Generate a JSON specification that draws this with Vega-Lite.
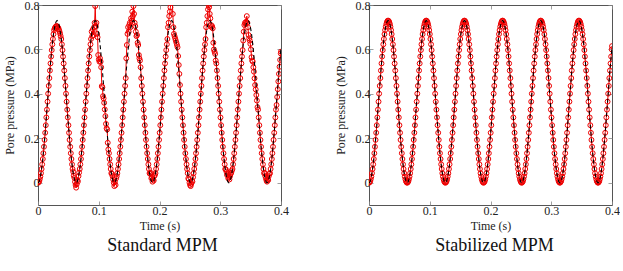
{
"$schema": "https://vega.github.io/schema/vega-lite/v6.json",
"padding": {"left": 2, "top": -2, "right": 0, "bottom": 0},
"background": "white",
"config": {
  "font": "Liberation Serif",
  "view": {"stroke": "#555555", "strokeWidth": 1},
  "axis": {"grid": false, "domain": false, "tickColor": "#888888", "tickSize": -4, "tickWidth": 0.8, "labelFontSize": 12, "titleFontSize": 12, "labelColor": "#222222", "titleColor": "#222222", "titleFontWeight": "normal", "labelFont": "Liberation Serif", "titleFont": "Liberation Serif", "labelPadding": 3},
  "axisX": {"titlePadding": 4, "labelPadding": 4},
  "axisY": {"titlePadding": 8, "labelPadding": 3},
  "title": {"font": "Liberation Serif", "fontSize": 18, "fontWeight": "normal", "color": "#111111"}
},
"datasets": {"mpm": [
{"t":0.0,"ex":0,"sd":0,"sb":0},
{"t":0.0010,"ex":0.002,"sd":0.002,"sb":0.002},
{"t":0.0020,"ex":0.007,"sd":0.007,"sb":0.007},
{"t":0.0029,"ex":0.016,"sd":0.016,"sb":0.016},
{"t":0.0039,"ex":0.028,"sd":0.028,"sb":0.028},
{"t":0.0049,"ex":0.043,"sd":0.043,"sb":0.043},
{"t":0.0059,"ex":0.062,"sd":0.062,"sb":0.062},
{"t":0.0069,"ex":0.083,"sd":0.083,"sb":0.083},
{"t":0.0079,"ex":0.107,"sd":0.107,"sb":0.107},
{"t":0.0088,"ex":0.133,"sd":0.133,"sb":0.133},
{"t":0.0098,"ex":0.162,"sd":0.162,"sb":0.162},
{"t":0.0108,"ex":0.193,"sd":0.193,"sb":0.193},
{"t":0.0118,"ex":0.225,"sd":0.225,"sb":0.225},
{"t":0.0128,"ex":0.259,"sd":0.259,"sb":0.259},
{"t":0.0137,"ex":0.294,"sd":0.294,"sb":0.294},
{"t":0.0147,"ex":0.329,"sd":0.329,"sb":0.329},
{"t":0.0157,"ex":0.365,"sd":0.365,"sb":0.365},
{"t":0.0167,"ex":0.401,"sd":0.401,"sb":0.401},
{"t":0.0177,"ex":0.436,"sd":0.436,"sb":0.436},
{"t":0.0187,"ex":0.471,"sd":0.471,"sb":0.471},
{"t":0.0196,"ex":0.505,"sd":0.505,"sb":0.505},
{"t":0.0206,"ex":0.537,"sd":0.537,"sb":0.537},
{"t":0.0216,"ex":0.568,"sd":0.568,"sb":0.568},
{"t":0.0226,"ex":0.597,"sd":0.597,"sb":0.597},
{"t":0.0236,"ex":0.623,"sd":0.623,"sb":0.623},
{"t":0.0245,"ex":0.647,"sd":0.647,"sb":0.647},
{"t":0.0255,"ex":0.669,"sd":0.669,"sb":0.669},
{"t":0.0265,"ex":0.687,"sd":0.687,"sb":0.687},
{"t":0.0275,"ex":0.702,"sd":0.695,"sb":0.702},
{"t":0.0285,"ex":0.714,"sd":0.700,"sb":0.714},
{"t":0.0295,"ex":0.723,"sd":0.703,"sb":0.723},
{"t":0.0304,"ex":0.728,"sd":0.706,"sb":0.728},
{"t":0.0314,"ex":0.730,"sd":0.704,"sb":0.730},
{"t":0.0324,"ex":0.728,"sd":0.700,"sb":0.728},
{"t":0.0334,"ex":0.723,"sd":0.697,"sb":0.723},
{"t":0.0344,"ex":0.714,"sd":0.690,"sb":0.714},
{"t":0.0353,"ex":0.702,"sd":0.682,"sb":0.702},
{"t":0.0363,"ex":0.687,"sd":0.672,"sb":0.687},
{"t":0.0373,"ex":0.669,"sd":0.660,"sb":0.669},
{"t":0.0383,"ex":0.647,"sd":0.647,"sb":0.647},
{"t":0.0393,"ex":0.623,"sd":0.623,"sb":0.623},
{"t":0.0403,"ex":0.597,"sd":0.597,"sb":0.597},
{"t":0.0412,"ex":0.568,"sd":0.568,"sb":0.568},
{"t":0.0422,"ex":0.537,"sd":0.537,"sb":0.537},
{"t":0.0432,"ex":0.505,"sd":0.505,"sb":0.505},
{"t":0.0442,"ex":0.471,"sd":0.471,"sb":0.471},
{"t":0.0452,"ex":0.436,"sd":0.436,"sb":0.436},
{"t":0.0461,"ex":0.401,"sd":0.401,"sb":0.401},
{"t":0.0471,"ex":0.365,"sd":0.365,"sb":0.365},
{"t":0.0481,"ex":0.329,"sd":0.329,"sb":0.329},
{"t":0.0491,"ex":0.294,"sd":0.294,"sb":0.294},
{"t":0.0501,"ex":0.259,"sd":0.259,"sb":0.259},
{"t":0.0511,"ex":0.225,"sd":0.225,"sb":0.225},
{"t":0.0520,"ex":0.193,"sd":0.193,"sb":0.193},
{"t":0.0530,"ex":0.162,"sd":0.162,"sb":0.162},
{"t":0.0540,"ex":0.133,"sd":0.133,"sb":0.133},
{"t":0.0550,"ex":0.107,"sd":0.107,"sb":0.107},
{"t":0.0560,"ex":0.083,"sd":0.083,"sb":0.083},
{"t":0.0569,"ex":0.062,"sd":0.062,"sb":0.062},
{"t":0.0579,"ex":0.043,"sd":0.050,"sb":0.043},
{"t":0.0589,"ex":0.028,"sd":0.032,"sb":0.028},
{"t":0.0599,"ex":0.016,"sd":0.022,"sb":0.016},
{"t":0.0609,"ex":0.007,"sd":0.004,"sb":0.007},
{"t":0.0619,"ex":0.002,"sd":-0.010,"sb":0.002},
{"t":0.0628,"ex":0,"sd":-0.022,"sb":0},
{"t":0.0638,"ex":0.002,"sd":-0.006,"sb":0.002},
{"t":0.0648,"ex":0.007,"sd":0.012,"sb":0.007},
{"t":0.0657,"ex":0.016,"sd":0.006,"sb":0.016},
{"t":0.0667,"ex":0.028,"sd":0.030,"sb":0.028},
{"t":0.0677,"ex":0.043,"sd":0.046,"sb":0.043},
{"t":0.0687,"ex":0.062,"sd":0.062,"sb":0.062},
{"t":0.0697,"ex":0.083,"sd":0.083,"sb":0.083},
{"t":0.0707,"ex":0.107,"sd":0.107,"sb":0.107},
{"t":0.0716,"ex":0.133,"sd":0.133,"sb":0.133},
{"t":0.0726,"ex":0.162,"sd":0.162,"sb":0.162},
{"t":0.0736,"ex":0.193,"sd":0.193,"sb":0.193},
{"t":0.0746,"ex":0.225,"sd":0.225,"sb":0.225},
{"t":0.0756,"ex":0.259,"sd":0.259,"sb":0.259},
{"t":0.0765,"ex":0.294,"sd":0.294,"sb":0.294},
{"t":0.0775,"ex":0.329,"sd":0.329,"sb":0.329},
{"t":0.0785,"ex":0.365,"sd":0.365,"sb":0.365},
{"t":0.0795,"ex":0.401,"sd":0.401,"sb":0.401},
{"t":0.0805,"ex":0.436,"sd":0.436,"sb":0.436},
{"t":0.0815,"ex":0.471,"sd":0.471,"sb":0.471},
{"t":0.0824,"ex":0.505,"sd":0.505,"sb":0.505},
{"t":0.0834,"ex":0.537,"sd":0.537,"sb":0.537},
{"t":0.0844,"ex":0.568,"sd":0.568,"sb":0.568},
{"t":0.0854,"ex":0.597,"sd":0.597,"sb":0.597},
{"t":0.0864,"ex":0.623,"sd":0.623,"sb":0.623},
{"t":0.0873,"ex":0.647,"sd":0.647,"sb":0.647},
{"t":0.0883,"ex":0.669,"sd":0.680,"sb":0.669},
{"t":0.0893,"ex":0.687,"sd":0.660,"sb":0.687},
{"t":0.0903,"ex":0.702,"sd":0.690,"sb":0.702},
{"t":0.0913,"ex":0.714,"sd":0.665,"sb":0.714},
{"t":0.0923,"ex":0.723,"sd":0.700,"sb":0.723},
{"t":0.0932,"ex":0.728,"sd":0.720,"sb":0.728},
{"t":0.0942,"ex":0.730,"sd":0.795,"sb":0.730},
{"t":0.0952,"ex":0.728,"sd":0.705,"sb":0.728},
{"t":0.0962,"ex":0.723,"sd":0.720,"sb":0.723},
{"t":0.0972,"ex":0.714,"sd":0.670,"sb":0.714},
{"t":0.0981,"ex":0.702,"sd":0.655,"sb":0.702},
{"t":0.0991,"ex":0.687,"sd":0.575,"sb":0.687},
{"t":0.1001,"ex":0.669,"sd":0.555,"sb":0.669},
{"t":0.1011,"ex":0.647,"sd":0.545,"sb":0.647},
{"t":0.1021,"ex":0.623,"sd":0.560,"sb":0.623},
{"t":0.1031,"ex":0.597,"sd":0.545,"sb":0.597},
{"t":0.1040,"ex":0.568,"sd":0.520,"sb":0.568},
{"t":0.1050,"ex":0.537,"sd":0.435,"sb":0.537},
{"t":0.1060,"ex":0.505,"sd":0.430,"sb":0.505},
{"t":0.1070,"ex":0.471,"sd":0.390,"sb":0.471},
{"t":0.1080,"ex":0.436,"sd":0.380,"sb":0.436},
{"t":0.1089,"ex":0.401,"sd":0.360,"sb":0.401},
{"t":0.1099,"ex":0.365,"sd":0.330,"sb":0.365},
{"t":0.1109,"ex":0.329,"sd":0.300,"sb":0.329},
{"t":0.1119,"ex":0.294,"sd":0.265,"sb":0.294},
{"t":0.1129,"ex":0.259,"sd":0.245,"sb":0.259},
{"t":0.1139,"ex":0.225,"sd":0.240,"sb":0.225},
{"t":0.1148,"ex":0.193,"sd":0.180,"sb":0.193},
{"t":0.1158,"ex":0.162,"sd":0.150,"sb":0.162},
{"t":0.1168,"ex":0.133,"sd":0.133,"sb":0.133},
{"t":0.1178,"ex":0.107,"sd":0.107,"sb":0.107},
{"t":0.1188,"ex":0.083,"sd":0.083,"sb":0.083},
{"t":0.1197,"ex":0.062,"sd":0.062,"sb":0.062},
{"t":0.1207,"ex":0.043,"sd":0.043,"sb":0.043},
{"t":0.1217,"ex":0.028,"sd":0.040,"sb":0.028},
{"t":0.1227,"ex":0.016,"sd":0.030,"sb":0.016},
{"t":0.1237,"ex":0.007,"sd":0.015,"sb":0.007},
{"t":0.1247,"ex":0.002,"sd":0.000,"sb":0.002},
{"t":0.1257,"ex":0,"sd":-0.015,"sb":0},
{"t":0.1267,"ex":0.002,"sd":0.005,"sb":0.002},
{"t":0.1277,"ex":0.007,"sd":-0.010,"sb":0.007},
{"t":0.1286,"ex":0.016,"sd":0.020,"sb":0.016},
{"t":0.1296,"ex":0.028,"sd":0.030,"sb":0.028},
{"t":0.1306,"ex":0.043,"sd":0.043,"sb":0.043},
{"t":0.1316,"ex":0.062,"sd":0.062,"sb":0.062},
{"t":0.1326,"ex":0.083,"sd":0.083,"sb":0.083},
{"t":0.1336,"ex":0.107,"sd":0.107,"sb":0.107},
{"t":0.1345,"ex":0.133,"sd":0.133,"sb":0.133},
{"t":0.1355,"ex":0.162,"sd":0.162,"sb":0.162},
{"t":0.1365,"ex":0.193,"sd":0.193,"sb":0.193},
{"t":0.1375,"ex":0.225,"sd":0.225,"sb":0.225},
{"t":0.1385,"ex":0.259,"sd":0.259,"sb":0.259},
{"t":0.1394,"ex":0.294,"sd":0.294,"sb":0.294},
{"t":0.1404,"ex":0.329,"sd":0.329,"sb":0.329},
{"t":0.1414,"ex":0.365,"sd":0.365,"sb":0.365},
{"t":0.1424,"ex":0.401,"sd":0.401,"sb":0.401},
{"t":0.1434,"ex":0.436,"sd":0.436,"sb":0.436},
{"t":0.1444,"ex":0.471,"sd":0.471,"sb":0.471},
{"t":0.1453,"ex":0.505,"sd":0.560,"sb":0.505},
{"t":0.1463,"ex":0.537,"sd":0.620,"sb":0.537},
{"t":0.1473,"ex":0.568,"sd":0.670,"sb":0.568},
{"t":0.1483,"ex":0.597,"sd":0.700,"sb":0.597},
{"t":0.1493,"ex":0.623,"sd":0.680,"sb":0.623},
{"t":0.1502,"ex":0.647,"sd":0.710,"sb":0.647},
{"t":0.1512,"ex":0.669,"sd":0.720,"sb":0.669},
{"t":0.1522,"ex":0.687,"sd":0.700,"sb":0.687},
{"t":0.1532,"ex":0.702,"sd":0.740,"sb":0.702},
{"t":0.1542,"ex":0.714,"sd":0.730,"sb":0.714},
{"t":0.1552,"ex":0.723,"sd":0.770,"sb":0.723},
{"t":0.1561,"ex":0.728,"sd":0.750,"sb":0.728},
{"t":0.1571,"ex":0.730,"sd":0.795,"sb":0.730},
{"t":0.1581,"ex":0.728,"sd":0.760,"sb":0.728},
{"t":0.1591,"ex":0.723,"sd":0.720,"sb":0.723},
{"t":0.1601,"ex":0.714,"sd":0.705,"sb":0.714},
{"t":0.1610,"ex":0.702,"sd":0.680,"sb":0.702},
{"t":0.1620,"ex":0.687,"sd":0.660,"sb":0.687},
{"t":0.1630,"ex":0.669,"sd":0.665,"sb":0.669},
{"t":0.1640,"ex":0.647,"sd":0.630,"sb":0.647},
{"t":0.1650,"ex":0.623,"sd":0.620,"sb":0.623},
{"t":0.1660,"ex":0.597,"sd":0.575,"sb":0.597},
{"t":0.1669,"ex":0.568,"sd":0.560,"sb":0.568},
{"t":0.1679,"ex":0.537,"sd":0.550,"sb":0.537},
{"t":0.1689,"ex":0.505,"sd":0.520,"sb":0.505},
{"t":0.1699,"ex":0.471,"sd":0.471,"sb":0.471},
{"t":0.1709,"ex":0.436,"sd":0.436,"sb":0.436},
{"t":0.1718,"ex":0.401,"sd":0.401,"sb":0.401},
{"t":0.1728,"ex":0.365,"sd":0.365,"sb":0.365},
{"t":0.1738,"ex":0.329,"sd":0.329,"sb":0.329},
{"t":0.1748,"ex":0.294,"sd":0.294,"sb":0.294},
{"t":0.1758,"ex":0.259,"sd":0.259,"sb":0.259},
{"t":0.1768,"ex":0.225,"sd":0.225,"sb":0.225},
{"t":0.1777,"ex":0.193,"sd":0.193,"sb":0.193},
{"t":0.1787,"ex":0.162,"sd":0.162,"sb":0.162},
{"t":0.1797,"ex":0.133,"sd":0.133,"sb":0.133},
{"t":0.1807,"ex":0.107,"sd":0.107,"sb":0.107},
{"t":0.1817,"ex":0.083,"sd":0.083,"sb":0.083},
{"t":0.1826,"ex":0.062,"sd":0.062,"sb":0.062},
{"t":0.1836,"ex":0.043,"sd":0.043,"sb":0.043},
{"t":0.1846,"ex":0.028,"sd":0.040,"sb":0.028},
{"t":0.1856,"ex":0.016,"sd":0.045,"sb":0.016},
{"t":0.1866,"ex":0.007,"sd":0.020,"sb":0.007},
{"t":0.1876,"ex":0.002,"sd":0.025,"sb":0.002},
{"t":0.1885,"ex":0,"sd":0.005,"sb":0},
{"t":0.1895,"ex":0.002,"sd":0.015,"sb":0.002},
{"t":0.1905,"ex":0.007,"sd":0.010,"sb":0.007},
{"t":0.1914,"ex":0.016,"sd":0.030,"sb":0.016},
{"t":0.1924,"ex":0.028,"sd":0.035,"sb":0.028},
{"t":0.1934,"ex":0.043,"sd":0.043,"sb":0.043},
{"t":0.1944,"ex":0.062,"sd":0.062,"sb":0.062},
{"t":0.1954,"ex":0.083,"sd":0.083,"sb":0.083},
{"t":0.1964,"ex":0.107,"sd":0.107,"sb":0.107},
{"t":0.1973,"ex":0.133,"sd":0.133,"sb":0.133},
{"t":0.1983,"ex":0.162,"sd":0.162,"sb":0.162},
{"t":0.1993,"ex":0.193,"sd":0.193,"sb":0.193},
{"t":0.2003,"ex":0.225,"sd":0.225,"sb":0.225},
{"t":0.2013,"ex":0.259,"sd":0.259,"sb":0.259},
{"t":0.2022,"ex":0.294,"sd":0.294,"sb":0.294},
{"t":0.2032,"ex":0.329,"sd":0.329,"sb":0.329},
{"t":0.2042,"ex":0.365,"sd":0.365,"sb":0.365},
{"t":0.2052,"ex":0.401,"sd":0.401,"sb":0.401},
{"t":0.2062,"ex":0.436,"sd":0.436,"sb":0.436},
{"t":0.2072,"ex":0.471,"sd":0.471,"sb":0.471},
{"t":0.2081,"ex":0.505,"sd":0.505,"sb":0.505},
{"t":0.2091,"ex":0.537,"sd":0.537,"sb":0.537},
{"t":0.2101,"ex":0.568,"sd":0.568,"sb":0.568},
{"t":0.2111,"ex":0.597,"sd":0.597,"sb":0.597},
{"t":0.2121,"ex":0.623,"sd":0.623,"sb":0.623},
{"t":0.2130,"ex":0.647,"sd":0.647,"sb":0.647},
{"t":0.2140,"ex":0.669,"sd":0.700,"sb":0.669},
{"t":0.2150,"ex":0.687,"sd":0.720,"sb":0.687},
{"t":0.2160,"ex":0.702,"sd":0.750,"sb":0.702},
{"t":0.2170,"ex":0.714,"sd":0.770,"sb":0.714},
{"t":0.2180,"ex":0.723,"sd":0.790,"sb":0.723},
{"t":0.2189,"ex":0.728,"sd":0.820,"sb":0.728},
{"t":0.2199,"ex":0.730,"sd":0.860,"sb":0.730},
{"t":0.2209,"ex":0.728,"sd":0.840,"sb":0.728},
{"t":0.2219,"ex":0.723,"sd":0.760,"sb":0.723},
{"t":0.2229,"ex":0.714,"sd":0.700,"sb":0.714},
{"t":0.2238,"ex":0.702,"sd":0.670,"sb":0.702},
{"t":0.2248,"ex":0.687,"sd":0.660,"sb":0.687},
{"t":0.2258,"ex":0.669,"sd":0.650,"sb":0.669},
{"t":0.2268,"ex":0.647,"sd":0.640,"sb":0.647},
{"t":0.2278,"ex":0.623,"sd":0.630,"sb":0.623},
{"t":0.2288,"ex":0.597,"sd":0.620,"sb":0.597},
{"t":0.2297,"ex":0.568,"sd":0.610,"sb":0.568},
{"t":0.2307,"ex":0.537,"sd":0.570,"sb":0.537},
{"t":0.2317,"ex":0.505,"sd":0.530,"sb":0.505},
{"t":0.2327,"ex":0.471,"sd":0.490,"sb":0.471},
{"t":0.2337,"ex":0.436,"sd":0.440,"sb":0.436},
{"t":0.2346,"ex":0.401,"sd":0.401,"sb":0.401},
{"t":0.2356,"ex":0.365,"sd":0.365,"sb":0.365},
{"t":0.2366,"ex":0.329,"sd":0.329,"sb":0.329},
{"t":0.2376,"ex":0.294,"sd":0.294,"sb":0.294},
{"t":0.2386,"ex":0.259,"sd":0.259,"sb":0.259},
{"t":0.2396,"ex":0.225,"sd":0.225,"sb":0.225},
{"t":0.2405,"ex":0.193,"sd":0.193,"sb":0.193},
{"t":0.2415,"ex":0.162,"sd":0.162,"sb":0.162},
{"t":0.2425,"ex":0.133,"sd":0.133,"sb":0.133},
{"t":0.2435,"ex":0.107,"sd":0.107,"sb":0.107},
{"t":0.2445,"ex":0.083,"sd":0.083,"sb":0.083},
{"t":0.2454,"ex":0.062,"sd":0.062,"sb":0.062},
{"t":0.2464,"ex":0.043,"sd":0.043,"sb":0.043},
{"t":0.2474,"ex":0.028,"sd":0.020,"sb":0.028},
{"t":0.2484,"ex":0.016,"sd":0.015,"sb":0.016},
{"t":0.2494,"ex":0.007,"sd":0.000,"sb":0.007},
{"t":0.2504,"ex":0.002,"sd":-0.010,"sb":0.002},
{"t":0.2513,"ex":0,"sd":-0.015,"sb":0},
{"t":0.2523,"ex":0.002,"sd":-0.005,"sb":0.002},
{"t":0.2533,"ex":0.007,"sd":0.010,"sb":0.007},
{"t":0.2542,"ex":0.016,"sd":0.005,"sb":0.016},
{"t":0.2552,"ex":0.028,"sd":0.025,"sb":0.028},
{"t":0.2562,"ex":0.043,"sd":0.043,"sb":0.043},
{"t":0.2572,"ex":0.062,"sd":0.062,"sb":0.062},
{"t":0.2582,"ex":0.083,"sd":0.083,"sb":0.083},
{"t":0.2592,"ex":0.107,"sd":0.107,"sb":0.107},
{"t":0.2601,"ex":0.133,"sd":0.133,"sb":0.133},
{"t":0.2611,"ex":0.162,"sd":0.162,"sb":0.162},
{"t":0.2621,"ex":0.193,"sd":0.193,"sb":0.193},
{"t":0.2631,"ex":0.225,"sd":0.225,"sb":0.225},
{"t":0.2641,"ex":0.259,"sd":0.259,"sb":0.259},
{"t":0.2650,"ex":0.294,"sd":0.294,"sb":0.294},
{"t":0.2660,"ex":0.329,"sd":0.329,"sb":0.329},
{"t":0.2670,"ex":0.365,"sd":0.365,"sb":0.365},
{"t":0.2680,"ex":0.401,"sd":0.401,"sb":0.401},
{"t":0.2690,"ex":0.436,"sd":0.436,"sb":0.436},
{"t":0.2700,"ex":0.471,"sd":0.471,"sb":0.471},
{"t":0.2709,"ex":0.505,"sd":0.505,"sb":0.505},
{"t":0.2719,"ex":0.537,"sd":0.537,"sb":0.537},
{"t":0.2729,"ex":0.568,"sd":0.568,"sb":0.568},
{"t":0.2739,"ex":0.597,"sd":0.597,"sb":0.597},
{"t":0.2749,"ex":0.623,"sd":0.623,"sb":0.623},
{"t":0.2758,"ex":0.647,"sd":0.647,"sb":0.647},
{"t":0.2768,"ex":0.669,"sd":0.700,"sb":0.669},
{"t":0.2778,"ex":0.687,"sd":0.720,"sb":0.687},
{"t":0.2788,"ex":0.702,"sd":0.750,"sb":0.702},
{"t":0.2798,"ex":0.714,"sd":0.780,"sb":0.714},
{"t":0.2808,"ex":0.723,"sd":0.800,"sb":0.723},
{"t":0.2817,"ex":0.728,"sd":0.790,"sb":0.728},
{"t":0.2827,"ex":0.730,"sd":0.760,"sb":0.730},
{"t":0.2837,"ex":0.728,"sd":0.740,"sb":0.728},
{"t":0.2847,"ex":0.723,"sd":0.710,"sb":0.723},
{"t":0.2857,"ex":0.714,"sd":0.700,"sb":0.714},
{"t":0.2866,"ex":0.702,"sd":0.705,"sb":0.702},
{"t":0.2876,"ex":0.687,"sd":0.695,"sb":0.687},
{"t":0.2886,"ex":0.669,"sd":0.630,"sb":0.669},
{"t":0.2896,"ex":0.647,"sd":0.600,"sb":0.647},
{"t":0.2906,"ex":0.623,"sd":0.590,"sb":0.623},
{"t":0.2916,"ex":0.597,"sd":0.580,"sb":0.597},
{"t":0.2925,"ex":0.568,"sd":0.550,"sb":0.568},
{"t":0.2935,"ex":0.537,"sd":0.537,"sb":0.537},
{"t":0.2945,"ex":0.505,"sd":0.505,"sb":0.505},
{"t":0.2955,"ex":0.471,"sd":0.471,"sb":0.471},
{"t":0.2965,"ex":0.436,"sd":0.436,"sb":0.436},
{"t":0.2974,"ex":0.401,"sd":0.401,"sb":0.401},
{"t":0.2984,"ex":0.365,"sd":0.365,"sb":0.365},
{"t":0.2994,"ex":0.329,"sd":0.329,"sb":0.329},
{"t":0.3004,"ex":0.294,"sd":0.294,"sb":0.294},
{"t":0.3014,"ex":0.259,"sd":0.259,"sb":0.259},
{"t":0.3024,"ex":0.225,"sd":0.225,"sb":0.225},
{"t":0.3033,"ex":0.193,"sd":0.193,"sb":0.193},
{"t":0.3043,"ex":0.162,"sd":0.162,"sb":0.162},
{"t":0.3053,"ex":0.133,"sd":0.133,"sb":0.133},
{"t":0.3063,"ex":0.107,"sd":0.107,"sb":0.107},
{"t":0.3073,"ex":0.083,"sd":0.083,"sb":0.083},
{"t":0.3082,"ex":0.062,"sd":0.062,"sb":0.062},
{"t":0.3092,"ex":0.043,"sd":0.060,"sb":0.043},
{"t":0.3102,"ex":0.028,"sd":0.050,"sb":0.028},
{"t":0.3112,"ex":0.016,"sd":0.035,"sb":0.016},
{"t":0.3122,"ex":0.007,"sd":0.040,"sb":0.007},
{"t":0.3132,"ex":0.002,"sd":0.020,"sb":0.002},
{"t":0.3142,"ex":0,"sd":0.025,"sb":0},
{"t":0.3152,"ex":0.002,"sd":0.015,"sb":0.002},
{"t":0.3162,"ex":0.007,"sd":0.030,"sb":0.007},
{"t":0.3171,"ex":0.016,"sd":0.040,"sb":0.016},
{"t":0.3181,"ex":0.028,"sd":0.045,"sb":0.028},
{"t":0.3191,"ex":0.043,"sd":0.055,"sb":0.043},
{"t":0.3201,"ex":0.062,"sd":0.062,"sb":0.062},
{"t":0.3211,"ex":0.083,"sd":0.083,"sb":0.083},
{"t":0.3221,"ex":0.107,"sd":0.107,"sb":0.107},
{"t":0.3230,"ex":0.133,"sd":0.133,"sb":0.133},
{"t":0.3240,"ex":0.162,"sd":0.162,"sb":0.162},
{"t":0.3250,"ex":0.193,"sd":0.193,"sb":0.193},
{"t":0.3260,"ex":0.225,"sd":0.225,"sb":0.225},
{"t":0.3270,"ex":0.259,"sd":0.259,"sb":0.259},
{"t":0.3279,"ex":0.294,"sd":0.294,"sb":0.294},
{"t":0.3289,"ex":0.329,"sd":0.329,"sb":0.329},
{"t":0.3299,"ex":0.365,"sd":0.365,"sb":0.365},
{"t":0.3309,"ex":0.401,"sd":0.401,"sb":0.401},
{"t":0.3319,"ex":0.436,"sd":0.436,"sb":0.436},
{"t":0.3329,"ex":0.471,"sd":0.471,"sb":0.471},
{"t":0.3338,"ex":0.505,"sd":0.505,"sb":0.505},
{"t":0.3348,"ex":0.537,"sd":0.537,"sb":0.537},
{"t":0.3358,"ex":0.568,"sd":0.568,"sb":0.568},
{"t":0.3368,"ex":0.597,"sd":0.597,"sb":0.597},
{"t":0.3378,"ex":0.623,"sd":0.640,"sb":0.623},
{"t":0.3387,"ex":0.647,"sd":0.680,"sb":0.647},
{"t":0.3397,"ex":0.669,"sd":0.710,"sb":0.669},
{"t":0.3407,"ex":0.687,"sd":0.720,"sb":0.687},
{"t":0.3417,"ex":0.702,"sd":0.715,"sb":0.702},
{"t":0.3427,"ex":0.714,"sd":0.725,"sb":0.714},
{"t":0.3437,"ex":0.723,"sd":0.750,"sb":0.723},
{"t":0.3446,"ex":0.728,"sd":0.720,"sb":0.728},
{"t":0.3456,"ex":0.730,"sd":0.700,"sb":0.730},
{"t":0.3466,"ex":0.728,"sd":0.665,"sb":0.728},
{"t":0.3476,"ex":0.723,"sd":0.650,"sb":0.723},
{"t":0.3486,"ex":0.714,"sd":0.640,"sb":0.714},
{"t":0.3495,"ex":0.702,"sd":0.625,"sb":0.702},
{"t":0.3505,"ex":0.687,"sd":0.600,"sb":0.687},
{"t":0.3515,"ex":0.669,"sd":0.565,"sb":0.669},
{"t":0.3525,"ex":0.647,"sd":0.550,"sb":0.647},
{"t":0.3535,"ex":0.623,"sd":0.545,"sb":0.623},
{"t":0.3545,"ex":0.597,"sd":0.520,"sb":0.597},
{"t":0.3554,"ex":0.568,"sd":0.500,"sb":0.568},
{"t":0.3564,"ex":0.537,"sd":0.470,"sb":0.537},
{"t":0.3574,"ex":0.505,"sd":0.440,"sb":0.505},
{"t":0.3584,"ex":0.471,"sd":0.420,"sb":0.471},
{"t":0.3594,"ex":0.436,"sd":0.395,"sb":0.436},
{"t":0.3603,"ex":0.401,"sd":0.370,"sb":0.401},
{"t":0.3613,"ex":0.365,"sd":0.340,"sb":0.365},
{"t":0.3623,"ex":0.329,"sd":0.329,"sb":0.329},
{"t":0.3633,"ex":0.294,"sd":0.294,"sb":0.294},
{"t":0.3643,"ex":0.259,"sd":0.259,"sb":0.259},
{"t":0.3653,"ex":0.225,"sd":0.225,"sb":0.225},
{"t":0.3662,"ex":0.193,"sd":0.193,"sb":0.193},
{"t":0.3672,"ex":0.162,"sd":0.162,"sb":0.162},
{"t":0.3682,"ex":0.133,"sd":0.133,"sb":0.133},
{"t":0.3692,"ex":0.107,"sd":0.107,"sb":0.107},
{"t":0.3702,"ex":0.083,"sd":0.083,"sb":0.083},
{"t":0.3711,"ex":0.062,"sd":0.062,"sb":0.062},
{"t":0.3721,"ex":0.043,"sd":0.043,"sb":0.043},
{"t":0.3731,"ex":0.028,"sd":0.045,"sb":0.028},
{"t":0.3741,"ex":0.016,"sd":0.030,"sb":0.016},
{"t":0.3751,"ex":0.007,"sd":0.020,"sb":0.007},
{"t":0.3761,"ex":0.002,"sd":0.010,"sb":0.002},
{"t":0.3770,"ex":0,"sd":0.005,"sb":0},
{"t":0.3780,"ex":0.002,"sd":0.015,"sb":0.002},
{"t":0.3790,"ex":0.007,"sd":0.012,"sb":0.007},
{"t":0.3799,"ex":0.016,"sd":0.030,"sb":0.016},
{"t":0.3809,"ex":0.028,"sd":0.040,"sb":0.028},
{"t":0.3819,"ex":0.043,"sd":0.043,"sb":0.043},
{"t":0.3829,"ex":0.062,"sd":0.062,"sb":0.062},
{"t":0.3839,"ex":0.083,"sd":0.083,"sb":0.083},
{"t":0.3849,"ex":0.107,"sd":0.107,"sb":0.107},
{"t":0.3858,"ex":0.133,"sd":0.133,"sb":0.133},
{"t":0.3868,"ex":0.162,"sd":0.162,"sb":0.162},
{"t":0.3878,"ex":0.193,"sd":0.193,"sb":0.193},
{"t":0.3888,"ex":0.225,"sd":0.225,"sb":0.225},
{"t":0.3898,"ex":0.259,"sd":0.259,"sb":0.259},
{"t":0.3907,"ex":0.294,"sd":0.294,"sb":0.294},
{"t":0.3917,"ex":0.329,"sd":0.329,"sb":0.329},
{"t":0.3927,"ex":0.365,"sd":0.350,"sb":0.365},
{"t":0.3937,"ex":0.401,"sd":0.386,"sb":0.401},
{"t":0.3947,"ex":0.436,"sd":0.421,"sb":0.436},
{"t":0.3956,"ex":0.471,"sd":0.456,"sb":0.471},
{"t":0.3966,"ex":0.505,"sd":0.490,"sb":0.505},
{"t":0.3976,"ex":0.537,"sd":0.522,"sb":0.537},
{"t":0.3986,"ex":0.568,"sd":0.553,"sb":0.568},
{"t":0.3996,"ex":0.597,"sd":0.582,"sb":0.600},
{"t":0.4,"ex":0.608,"sd":0.590,"sb":0.615}
]},
"spacing": 44,
"hconcat": [
 {
  "width": 243, "height": 200,
  "data": {"name": "mpm"},
  "title": {"text": "Standard MPM", "orient": "bottom", "anchor": "middle", "frame": "group", "offset": 6, "dx": 3},
  "layer": [
   {"mark": {"type": "line", "color": "#ee0000", "strokeWidth": 1, "clip": true},
    "encoding": {
     "x": {"field": "t", "type": "quantitative", "scale": {"domain": [0, 0.4], "nice": false}, "axis": {"values": [0, 0.1, 0.2, 0.3, 0.4], "format": "~g", "title": "Time (s)", "labelFlush": false}},
     "y": {"field": "sd", "type": "quantitative", "scale": {"domain": [-0.1, 0.8], "nice": false, "zero": false}, "axis": {"values": [0, 0.2, 0.4, 0.6, 0.8], "format": "~g", "title": "Pore pressure (MPa)", "labelFlush": false}}}},
   {"mark": {"type": "point", "shape": "circle", "filled": false, "color": "#ee0000", "size": 24, "strokeWidth": 1, "opacity": 1, "clip": true},
    "encoding": {
     "x": {"field": "t", "type": "quantitative", "scale": {"domain": [0, 0.4], "nice": false}, "axis": {"orient": "top", "values": [0, 0.1, 0.2, 0.3, 0.4], "labels": false, "title": null}},
     "y": {"field": "sd", "type": "quantitative", "scale": {"domain": [-0.1, 0.8], "nice": false, "zero": false}, "axis": {"orient": "right", "values": [0, 0.2, 0.4, 0.6, 0.8], "labels": false, "title": null}}}},
   {"mark": {"type": "line", "color": "#000000", "strokeWidth": 1.1, "strokeDash": [4, 3], "clip": true},
    "encoding": {
     "x": {"field": "t", "type": "quantitative", "scale": {"domain": [0, 0.4], "nice": false}, "axis": null},
     "y": {"field": "ex", "type": "quantitative", "scale": {"domain": [-0.1, 0.8], "nice": false, "zero": false}, "axis": null}}}
  ],
  "resolve": {"axis": {"x": "independent", "y": "independent"}}
 },
 {
  "width": 243, "height": 200,
  "data": {"name": "mpm"},
  "title": {"text": "Stabilized MPM", "orient": "bottom", "anchor": "middle", "frame": "group", "offset": 6, "dx": 4},
  "layer": [
   {"mark": {"type": "line", "color": "#ee0000", "strokeWidth": 1, "clip": true},
    "encoding": {
     "x": {"field": "t", "type": "quantitative", "scale": {"domain": [0, 0.4], "nice": false}, "axis": {"values": [0, 0.1, 0.2, 0.3, 0.4], "format": "~g", "title": "Time (s)", "labelFlush": false}},
     "y": {"field": "sb", "type": "quantitative", "scale": {"domain": [-0.1, 0.8], "nice": false, "zero": false}, "axis": {"values": [0, 0.2, 0.4, 0.6, 0.8], "format": "~g", "title": "Pore pressure (MPa)", "labelFlush": false}}}},
   {"mark": {"type": "point", "shape": "circle", "filled": false, "color": "#ee0000", "size": 24, "strokeWidth": 1, "opacity": 1, "clip": true},
    "encoding": {
     "x": {"field": "t", "type": "quantitative", "scale": {"domain": [0, 0.4], "nice": false}, "axis": {"orient": "top", "values": [0, 0.1, 0.2, 0.3, 0.4], "labels": false, "title": null}},
     "y": {"field": "sb", "type": "quantitative", "scale": {"domain": [-0.1, 0.8], "nice": false, "zero": false}, "axis": {"orient": "right", "values": [0, 0.2, 0.4, 0.6, 0.8], "labels": false, "title": null}}}},
   {"mark": {"type": "line", "color": "#000000", "strokeWidth": 1.1, "strokeDash": [4, 3], "clip": true},
    "encoding": {
     "x": {"field": "t", "type": "quantitative", "scale": {"domain": [0, 0.4], "nice": false}, "axis": null},
     "y": {"field": "ex", "type": "quantitative", "scale": {"domain": [-0.1, 0.8], "nice": false, "zero": false}, "axis": null}}}
  ],
  "resolve": {"axis": {"x": "independent", "y": "independent"}}
 }
]
}
